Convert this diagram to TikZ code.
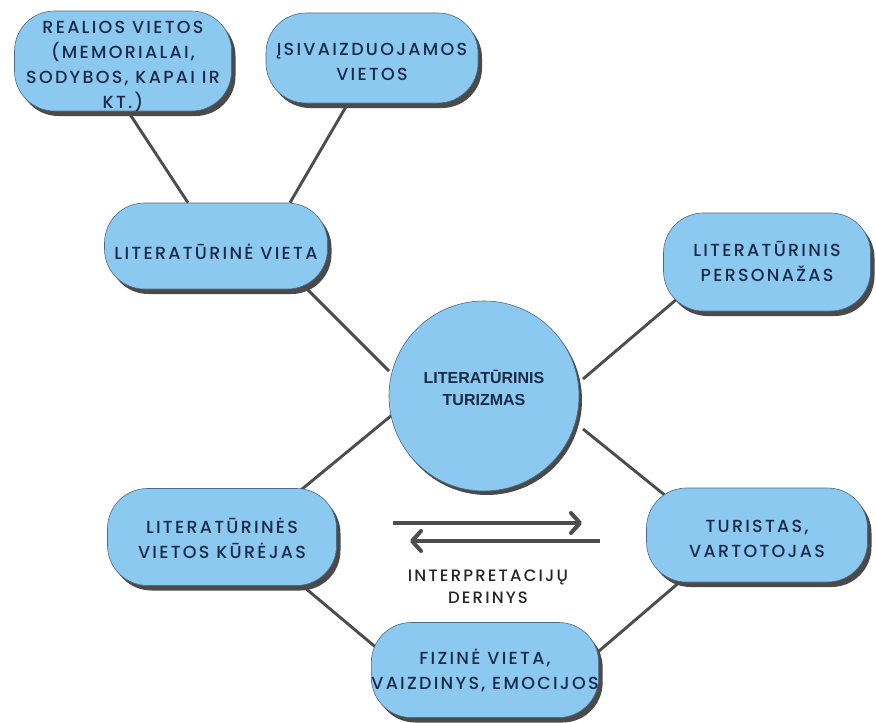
\documentclass[tikz,border=0pt]{standalone}
\usepackage{fontspec}
\usetikzlibrary{shadows,arrows.meta,calc,backgrounds}
\newfontfamily\boxfont[LetterSpace=13, UprightFont={* Medium}]{Poppins}
\newfontfamily\circfont{Liberation Sans}
\newcommand\shiftedlines[2]{\raisebox{#1}[\height][\depth]{\begin{tabular}{@{}c@{}}#2\end{tabular}}}
\definecolor{boxblue}{HTML}{8CC9F1}
\definecolor{txtnavy}{HTML}{1B2A46}
\definecolor{shadowgray}{HTML}{4A4A4A}
\definecolor{linegray}{HTML}{4D4D4D}
\definecolor{edgeblue}{HTML}{4F6A86}
\definecolor{labelgray}{HTML}{262626}
\begin{document}
\begin{tikzpicture}[x=1pt,y=-1pt,
  pill/.style={rectangle, rounded corners=40pt, fill=boxblue, draw=edgeblue, line width=0.6pt,
    text=txtnavy, inner sep=0pt,
    font=\boxfont\fontsize{17.5}{25}\selectfont,
    drop shadow={shadow xshift=4pt,shadow yshift=-5pt,fill=shadowgray,opacity=1}},
  hub/.style={circle, fill=boxblue, draw=edgeblue, line width=0.6pt, text=txtnavy,
    inner sep=0pt, minimum size=190pt,
    font=\circfont\bfseries\fontsize{16}{22}\selectfont,
    drop shadow={shadow xshift=3pt,shadow yshift=-4pt,fill=shadowgray,opacity=1}},
  link/.style={draw=linegray, line width=2.9pt},
  flow/.style={draw=linegray, line width=4pt, -{Straight Barb[length=9pt,width=20pt,round]}},
  note/.style={text=labelgray, align=center, font=\boxfont\fontsize{16.5}{22}\selectfont},
]
\useasboundingbox (0,0) rectangle (876,723);

\node[pill, minimum width=217pt, minimum height=96pt] (real) at (123,61)
  {\shiftedlines{-5pt}{REALIOS VIETOS\\(MEMORIALAI,\\SODYBOS, KAPAI IR\\KT.)}};
\node[pill, minimum width=212pt, minimum height=90pt] (isiv) at (372,58)
  {\shiftedlines{-5pt}{ĮSIVAIZDUOJAMOS\\VIETOS}};
\node[pill, minimum width=223pt, minimum height=86pt] (lv) at (216,246)
  {\shiftedlines{-8pt}{LITERATŪRINĖ VIETA}};
\node[hub] (circ) at (484,396) {\shiftedlines{6pt}{LITERATŪRINIS\\TURIZMAS}};
\node[pill, minimum width=207pt, minimum height=98pt] (pers) at (767,262)
  {\shiftedlines{-2pt}{LITERATŪRINIS\\PERSONAŽAS}};
\node[pill, minimum width=229pt, minimum height=97pt] (kur) at (222,537)
  {\shiftedlines{-4pt}{LITERATŪRINĖS\\VIETOS KŪRĖJAS}};
\node[pill, minimum width=221pt, minimum height=94pt] (tur) at (757,535)
  {\shiftedlines{-5pt}{TURISTAS,\\VARTOTOJAS}};
\node[pill, minimum width=225pt, minimum height=95pt] (fiz) at (485,670)
  {\shiftedlines{-2pt}{FIZINĖ VIETA,\\VAIZDINYS, EMOCIJOS}};

\node[note] (interp) at (488,587) {INTERPRETACIJŲ\\DERINYS};

\coordinate (a1s) at (393,523);
\coordinate (a1e) at (582,523);
\coordinate (a2s) at (600,541);
\coordinate (a2e) at (410,541);
\draw[flow] (a1s) -- (a1e);
\draw[flow] (a2s) -- (a2e);

\begin{scope}[on background layer]
\fill[white] (0,0) rectangle (876,723);
\draw[link] ([xshift=5pt]real.south) -- ([xshift=-28pt]lv.north);
\draw[link] ([xshift=-24pt]isiv.south) -- ([xshift=74pt]lv.north);
\draw[link] ($(lv.center)+(90,42)$) -- ($(circ.center)+(-95,-25)$);
\draw[link] ($(circ.center)+(99,-17)$) -- ($(pers.center)+(-76,25)$);
\draw[link] ($(circ.center)+(-92,19)$) -- ($(kur.center)+(68,-38)$);
\draw[link] ($(circ.center)+(99,33)$) -- ($(tur.center)+(-80,-30)$);
\draw[link] ($(kur.center)+(76,45)$) -- ($(fiz.center)+(-100,-15)$);
\draw[link] ($(tur.center)+(-75,45)$) -- ($(fiz.center)+(107,-13)$);
\end{scope}
\end{tikzpicture}
\end{document}
